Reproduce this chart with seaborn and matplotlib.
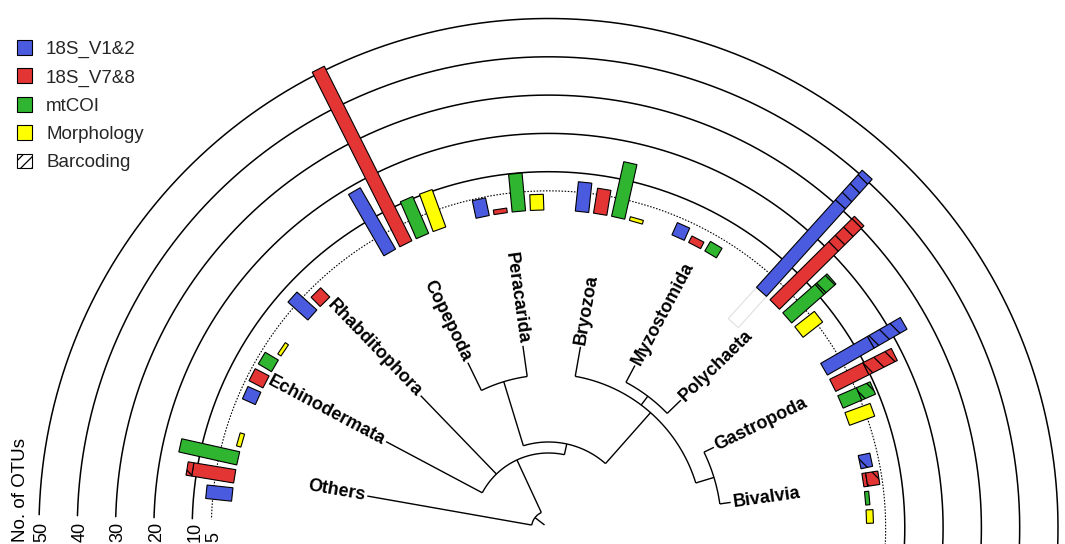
import numpy as np
import matplotlib
matplotlib.use("Agg")
import matplotlib.pyplot as plt
from matplotlib.patches import Rectangle, Patch
from matplotlib.transforms import Affine2D
import seaborn as sns

# ---- data -------------------------------------------------------------
groups = ["Others", "Echinodermata", "Rhabditophora", "Copepoda", "Peracarida",
          "Bryozoa", "Myzostomida", "Polychaeta", "Gastropoda", "Bivalvia"]
markers = ["18S_V1&2", "18S_V7&8", "mtCOI", "Morphology"]

# total number of OTUs per group and marker
otus_v12 = [6.8, 3.7, 7.0, 18.5, 4.7, 7.7, 3.5, 41.2, 24.0, 3.1]
otus_v78 = [12.6, 4.1, 3.4, 51.0, 1.2, 6.6, 1.9, 31.0, 18.0, 4.2]
otus_coi = [15.5, 4.0, 0.0, 10.5, 9.9, 14.6, 2.9, 15.4, 9.2, 1.1]
otus_morph = [1.2, 1.0, 0.0, 10.4, 4.1, 1.0, 0.0, 6.5, 7.0, 1.8]

# part of each total that was confirmed by barcoding
barcode_v12 = [0, 0, 0, 0, 0, 0, 0, 10.4, 9.9, 3.1]
barcode_v78 = [1.5, 0, 0, 0, 0, 0, 0, 9.4, 8.3, 3.2]
barcode_coi = [0, 0, 0, 0, 0, 0, 0, 4.1, 3.9, 0]
barcode_morph = [0, 0, 0, 0, 0, 0, 0, 0, 0, 0]

ring_values = [10, 20, 30, 40, 50]
ring_labels = ["10", "20", "30", "40", "50"]

# ---- layout -----------------------------------------------------------
PX = 3.83                 # pixels per OTU
R0 = 318 / PX             # radius of the zero line
BAR_W = 13.5 / PX         # bar thickness
SLOT = 3.3                # degrees between bars of one group
STEP = 18.0               # degrees per group
ARC_START, ARC_END = -4.0, 178.5

sns.set_theme(style="white")
plt.rcParams["font.family"] = ["Liberation Sans", "DejaVu Sans"]
plt.rcParams["hatch.linewidth"] = 0.9

palette = sns.color_palette(["#4B5BE0", "#E43535", "#2FB52F", "#FFFF00"])

W, H = 1065, 544
cx, cy = 548.5, 528.0
fig = plt.figure(figsize=(W / 100, H / 100), dpi=100)
ax = fig.add_axes([0, 0, 1, 1])
ax.set_xlim(-cx / PX, (W - cx) / PX)
ax.set_ylim(-(H - cy) / PX, cy / PX)
ax.axis("off")


def pol(theta, r):
    t = np.deg2rad(theta)
    return r * np.cos(t), r * np.sin(t)


# rings
th = np.linspace(ARC_START, ARC_END, 600)
for v in ring_values:
    x, y = pol(th, R0 + v)
    ax.plot(x, y, color="black", lw=1.1, zorder=1)
x, y = pol(th, R0 + 5)
ax.plot(x, y, color="black", lw=0.8, ls=(0, (1.4, 1.4)), zorder=1)

# ring labels along the left end
ybase = -(542 - cy) / PX
for v, lab in zip([5] + ring_values, ["5"] + ring_labels):
    ax.text(-(R0 + v) + 0.7, ybase, lab, rotation=90, ha="center", va="bottom",
            fontsize=13, color="black")
ax.text(-(cx - 21) / PX, ybase, "No. of OTUs", rotation=90, ha="center",
        va="bottom", fontsize=13.5, color="black")


def radial_bar(theta, start, length, color, hatch=None, ec="black", z=3):
    rect = Rectangle((R0 + start, -BAR_W / 2), length, BAR_W, facecolor=color,
                     edgecolor=ec, lw=0.8, hatch=hatch, zorder=z)
    rect.set_transform(Affine2D().rotate_deg(theta) + ax.transData)
    ax.add_patch(rect)


series = [(otus_v12, barcode_v12), (otus_v78, barcode_v78),
          (otus_coi, barcode_coi), (otus_morph, barcode_morph)]
centers = [169.0 - STEP * i for i in range(len(groups))]

for gi, c in enumerate(centers):
    for k, (tot, bc) in enumerate(series):
        total = tot[gi]
        if total <= 0:
            continue
        theta = c + (1.5 - k) * SLOT
        plain = total - bc[gi]
        if plain > 0:
            radial_bar(theta, 0, plain, palette[k])
        if bc[gi] > 0:
            radial_bar(theta, plain, bc[gi], palette[k], hatch="\\\\")

# blank inner tab under the Polychaeta V1&2 bar
radial_bar(centers[7] + 1.5 * SLOT, -11, 11, "white", ec="#e0e0e0", z=2)

# ---- tree -------------------------------------------------------------
TIP = 184 / PX
leaf_angle = {g: 170.0 - STEP * i for i, g in enumerate(groups)}

# (name, children, node radius in px)
nodes = [
    ("GB", ["Gastropoda", "Bivalvia"], 173),
    ("MP", ["Myzostomida", "Polychaeta"], 165),
    ("CP", ["Copepoda", "Peracarida"], 153),
    ("RIGHT", ["Bryozoa", "MP", "GB"], 154),
    ("MID", ["CP", "RIGHT"], 86),
    ("ALL", ["Echinodermata", "Rhabditophora", "MID"], 75),
    ("ROOT", ["Others", "ALL"], 17),
]
angle = dict(leaf_angle)
radius = {g: TIP for g in groups}
for name, kids, rpx in nodes:
    angle[name] = (max(angle[k] for k in kids) + min(angle[k] for k in kids)) / 2
    radius[name] = rpx / PX

tree_kw = dict(color="black", lw=1.0, zorder=2, solid_capstyle="butt")
for name, kids, rpx in nodes:
    r = radius[name]
    a = np.linspace(min(angle[k] for k in kids), max(angle[k] for k in kids), 120)
    ax.plot(*pol(a, r), **tree_kw)
    for k in kids:
        x0, y0 = pol(angle[k], r)
        x1, y1 = pol(angle[k], radius[k])
        ax.plot([x0, x1], [y0, y1], **tree_kw)
x0, y0 = pol(angle["ROOT"], radius["ROOT"])
x1, y1 = pol(angle["ROOT"], 5 / PX)
ax.plot([x0, x1], [y0, y1], **tree_kw)

# leaf labels
for g in groups:
    a = leaf_angle[g]
    x, y = pol(a, TIP + 2 / PX)
    if a > 90:
        rot, ha = a - 180, "right"
    else:
        rot, ha = a, "left"
    ax.text(x, y, g, rotation=rot, rotation_mode="anchor", ha=ha, va="center",
            fontsize=13, fontweight="bold", color="black")

# ---- legend -----------------------------------------------------------
handles = [Patch(facecolor=palette[k], edgecolor="black", lw=0.8, label=m)
           for k, m in enumerate(markers)]
handles.append(Patch(facecolor="white", edgecolor="black", lw=0.8, hatch="///",
                     label="Barcoding"))
ax.legend(handles=handles, loc="upper left", frameon=False, fontsize=13.5,
          handlelength=0.8, handleheight=0.85, handletextpad=0.75,
          labelspacing=0.55, borderpad=0, borderaxespad=0,
          bbox_to_anchor=(17 / W, 1 - 40 / H), bbox_transform=fig.transFigure)

fig.savefig("out.png", dpi=100)
